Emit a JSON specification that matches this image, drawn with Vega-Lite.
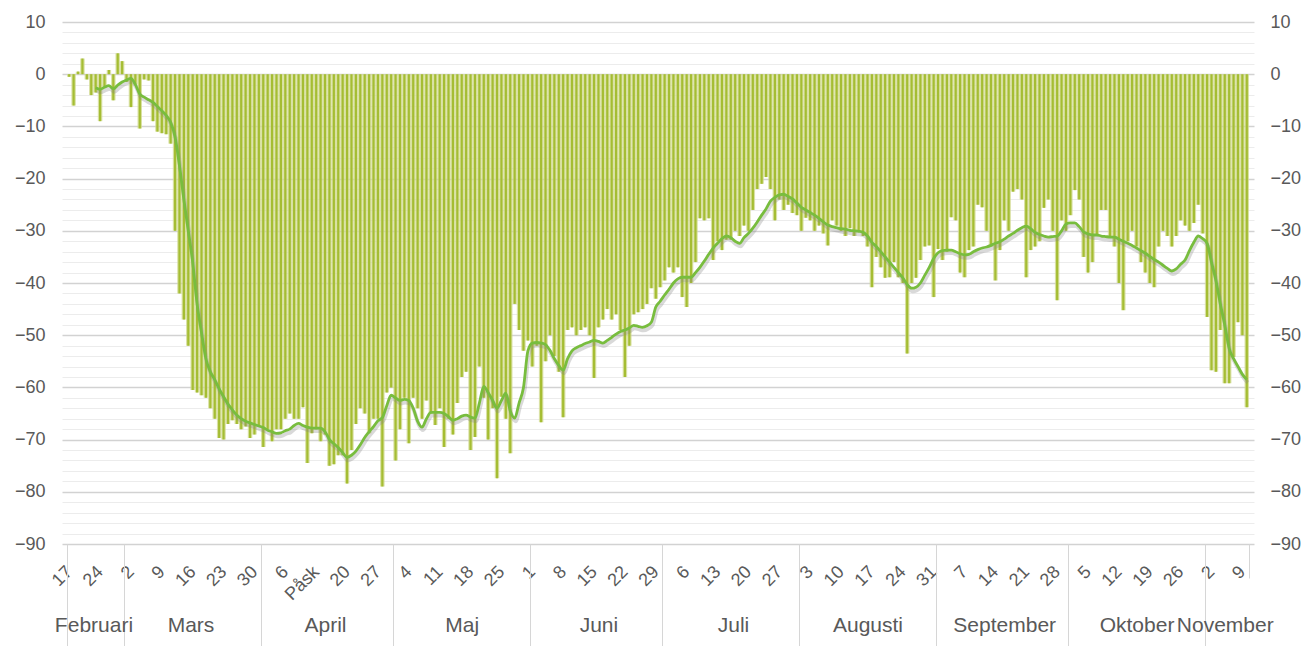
{
  "$schema": "https://vega.github.io/schema/vega-lite/v6.json",
  "width": 1192,
  "height": 522,
  "autosize": "none",
  "padding": {"left": 62, "top": 22, "right": 52, "bottom": 102},
  "background": "white",
  "config": {
    "view": {"stroke": null},
    "font": "Liberation Sans",
    "axis": {"labelFont": "Liberation Sans", "labelColor": "#595959", "labelFontSize": 18, "title": null, "labelOverlap": false, "labelFlush": false, "labelBound": false}
  },
  "data": {"values": [
    {"d":"2020-02-17","v":-0.5,"m":null},{"d":"2020-02-18","v":-6,"m":null},{"d":"2020-02-19","v":0.5,"m":null},{"d":"2020-02-20","v":3,"m":null},{"d":"2020-02-21","v":-1,"m":null},{"d":"2020-02-22","v":-4,"m":null},{"d":"2020-02-23","v":-3.5,"m":-2.6},{"d":"2020-02-24","v":-9,"m":-2.9},{"d":"2020-02-25","v":-2.5,"m":-2.5},{"d":"2020-02-26","v":0.8,"m":-2.2},{"d":"2020-02-27","v":-5,"m":-2.8},{"d":"2020-02-28","v":4,"m":-2.1},{"d":"2020-02-29","v":2.5,"m":-1.5},
    {"d":"2020-03-01","v":-1.5,"m":-1.1},{"d":"2020-03-02","v":-6.3,"m":-0.8},{"d":"2020-03-03","v":-2,"m":-2},{"d":"2020-03-04","v":-10.4,"m":-3.8},{"d":"2020-03-05","v":-1,"m":-4.4},{"d":"2020-03-06","v":-1.2,"m":-4.9},{"d":"2020-03-07","v":-9,"m":-5.4},{"d":"2020-03-08","v":-11,"m":-6.2},{"d":"2020-03-09","v":-11.3,"m":-7},{"d":"2020-03-10","v":-11.5,"m":-7.9},{"d":"2020-03-11","v":-13.3,"m":-9.2},{"d":"2020-03-12","v":-30,"m":-12},{"d":"2020-03-13","v":-42,"m":-17.5},{"d":"2020-03-14","v":-47,"m":-24},{"d":"2020-03-15","v":-52,"m":-30},{"d":"2020-03-16","v":-60.5,"m":-36},{"d":"2020-03-17","v":-61,"m":-44},{"d":"2020-03-18","v":-61.5,"m":-49.5},{"d":"2020-03-19","v":-62,"m":-54.5},{"d":"2020-03-20","v":-64,"m":-57},{"d":"2020-03-21","v":-66,"m":-58.5},{"d":"2020-03-22","v":-69.7,"m":-60.3},{"d":"2020-03-23","v":-70,"m":-61.8},{"d":"2020-03-24","v":-67,"m":-63.2},{"d":"2020-03-25","v":-66.3,"m":-64.3},{"d":"2020-03-26","v":-67,"m":-65.3},{"d":"2020-03-27","v":-68,"m":-66},{"d":"2020-03-28","v":-67.5,"m":-66.5},{"d":"2020-03-29","v":-69.7,"m":-66.8},{"d":"2020-03-30","v":-69,"m":-67.1},{"d":"2020-03-31","v":-67.5,"m":-67.4},
    {"d":"2020-04-01","v":-71.4,"m":-67.7},{"d":"2020-04-02","v":-68,"m":-68.2},{"d":"2020-04-03","v":-70.3,"m":-68.5},{"d":"2020-04-04","v":-68,"m":-68.8},{"d":"2020-04-05","v":-68,"m":-68.7},{"d":"2020-04-06","v":-66,"m":-68.3},{"d":"2020-04-07","v":-65,"m":-68},{"d":"2020-04-08","v":-66,"m":-67.3},{"d":"2020-04-09","v":-66,"m":-66.9},{"d":"2020-04-10","v":-63.8,"m":-67.3},{"d":"2020-04-11","v":-74.5,"m":-67.6},{"d":"2020-04-12","v":-68.8,"m":-67.8},{"d":"2020-04-13","v":-68,"m":-67.8},{"d":"2020-04-14","v":-70.3,"m":-67.8},{"d":"2020-04-15","v":-69,"m":-68.5},{"d":"2020-04-16","v":-75,"m":-70},{"d":"2020-04-17","v":-74.7,"m":-70.8},{"d":"2020-04-18","v":-73,"m":-71.5},{"d":"2020-04-19","v":-73,"m":-72.5},{"d":"2020-04-20","v":-78.4,"m":-73.4},{"d":"2020-04-21","v":-72,"m":-73},{"d":"2020-04-22","v":-67,"m":-72.2},{"d":"2020-04-23","v":-64,"m":-71},{"d":"2020-04-24","v":-65,"m":-69.6},{"d":"2020-04-25","v":-68.8,"m":-68.5},{"d":"2020-04-26","v":-66,"m":-67.5},{"d":"2020-04-27","v":-66,"m":-66.4},{"d":"2020-04-28","v":-79,"m":-65.8},{"d":"2020-04-29","v":-61,"m":-63.5},{"d":"2020-04-30","v":-60,"m":-61.5},
    {"d":"2020-05-01","v":-74,"m":-62},{"d":"2020-05-02","v":-68,"m":-62.5},{"d":"2020-05-03","v":-62,"m":-62.3},{"d":"2020-05-04","v":-70.7,"m":-62.5},{"d":"2020-05-05","v":-62,"m":-64},{"d":"2020-05-06","v":-64,"m":-66.5},{"d":"2020-05-07","v":-66,"m":-67.6},{"d":"2020-05-08","v":-62.5,"m":-66},{"d":"2020-05-09","v":-65,"m":-64.8},{"d":"2020-05-10","v":-67.2,"m":-64.8},{"d":"2020-05-11","v":-64,"m":-64.8},{"d":"2020-05-12","v":-71.4,"m":-65},{"d":"2020-05-13","v":-66,"m":-65.6},{"d":"2020-05-14","v":-69,"m":-66.3},{"d":"2020-05-15","v":-63,"m":-66},{"d":"2020-05-16","v":-58,"m":-65.5},{"d":"2020-05-17","v":-57,"m":-65.3},{"d":"2020-05-18","v":-72,"m":-65.7},{"d":"2020-05-19","v":-69.5,"m":-65.9},{"d":"2020-05-20","v":-56,"m":-63},{"d":"2020-05-21","v":-62,"m":-59.8},{"d":"2020-05-22","v":-70,"m":-61},{"d":"2020-05-23","v":-64,"m":-62.5},{"d":"2020-05-24","v":-77.4,"m":-64},{"d":"2020-05-25","v":-61.8,"m":-62.5},{"d":"2020-05-26","v":-66,"m":-61.1},{"d":"2020-05-27","v":-72.6,"m":-64.5},{"d":"2020-05-28","v":-44,"m":-65.9},{"d":"2020-05-29","v":-49,"m":-63},{"d":"2020-05-30","v":-53,"m":-60},{"d":"2020-05-31","v":-51,"m":-53},
    {"d":"2020-06-01","v":-56,"m":-51.5},{"d":"2020-06-02","v":-52,"m":-51.4},{"d":"2020-06-03","v":-66.7,"m":-51.5},{"d":"2020-06-04","v":-55,"m":-51.8},{"d":"2020-06-05","v":-50,"m":-52.9},{"d":"2020-06-06","v":-54,"m":-54.5},{"d":"2020-06-07","v":-57,"m":-55.8},{"d":"2020-06-08","v":-65.7,"m":-56.7},{"d":"2020-06-09","v":-49,"m":-54.5},{"d":"2020-06-10","v":-48.5,"m":-53},{"d":"2020-06-11","v":-50,"m":-52.4},{"d":"2020-06-12","v":-49,"m":-52},{"d":"2020-06-13","v":-48.5,"m":-51.6},{"d":"2020-06-14","v":-50,"m":-51.3},{"d":"2020-06-15","v":-58.2,"m":-51},{"d":"2020-06-16","v":-48.5,"m":-51.2},{"d":"2020-06-17","v":-47,"m":-51.5},{"d":"2020-06-18","v":-45,"m":-51},{"d":"2020-06-19","v":-47,"m":-50.4},{"d":"2020-06-20","v":-46,"m":-49.8},{"d":"2020-06-21","v":-49,"m":-49.3},{"d":"2020-06-22","v":-58,"m":-49},{"d":"2020-06-23","v":-52,"m":-48.6},{"d":"2020-06-24","v":-46,"m":-48.1},{"d":"2020-06-25","v":-45.6,"m":-48.3},{"d":"2020-06-26","v":-45,"m":-48.5},{"d":"2020-06-27","v":-44,"m":-48.2},{"d":"2020-06-28","v":-41,"m":-47.5},{"d":"2020-06-29","v":-43,"m":-44.6},{"d":"2020-06-30","v":-40.8,"m":-43.5},
    {"d":"2020-07-01","v":-39.5,"m":-42.3},{"d":"2020-07-02","v":-37,"m":-41.2},{"d":"2020-07-03","v":-38,"m":-40},{"d":"2020-07-04","v":-37,"m":-39.2},{"d":"2020-07-05","v":-42.7,"m":-38.9},{"d":"2020-07-06","v":-44.6,"m":-38.9},{"d":"2020-07-07","v":-40,"m":-38.9},{"d":"2020-07-08","v":-36,"m":-38},{"d":"2020-07-09","v":-27.6,"m":-37},{"d":"2020-07-10","v":-28,"m":-35.8},{"d":"2020-07-11","v":-27.6,"m":-34.5},{"d":"2020-07-12","v":-35.6,"m":-33.3},{"d":"2020-07-13","v":-32,"m":-32.4},{"d":"2020-07-14","v":-33.7,"m":-31.5},{"d":"2020-07-15","v":-31.7,"m":-31},{"d":"2020-07-16","v":-31.7,"m":-31.3},{"d":"2020-07-17","v":-30,"m":-32},{"d":"2020-07-18","v":-31,"m":-32.4},{"d":"2020-07-19","v":-29,"m":-31.3},{"d":"2020-07-20","v":-30,"m":-30.5},{"d":"2020-07-21","v":-26,"m":-29.5},{"d":"2020-07-22","v":-22,"m":-28.3},{"d":"2020-07-23","v":-21,"m":-27},{"d":"2020-07-24","v":-19.7,"m":-25.8},{"d":"2020-07-25","v":-22,"m":-24.3},{"d":"2020-07-26","v":-28,"m":-23.6},{"d":"2020-07-27","v":-24,"m":-23.1},{"d":"2020-07-28","v":-26,"m":-23},{"d":"2020-07-29","v":-25,"m":-23.4},{"d":"2020-07-30","v":-26.6,"m":-23.9},{"d":"2020-07-31","v":-27,"m":-24.7},
    {"d":"2020-08-01","v":-30,"m":-25.5},{"d":"2020-08-02","v":-27.5,"m":-26},{"d":"2020-08-03","v":-28,"m":-26.5},{"d":"2020-08-04","v":-30,"m":-27},{"d":"2020-08-05","v":-29,"m":-27.6},{"d":"2020-08-06","v":-30.5,"m":-28.3},{"d":"2020-08-07","v":-32.8,"m":-28.9},{"d":"2020-08-08","v":-28,"m":-29.2},{"d":"2020-08-09","v":-29,"m":-29.4},{"d":"2020-08-10","v":-30,"m":-29.6},{"d":"2020-08-11","v":-31,"m":-29.7},{"d":"2020-08-12","v":-29.5,"m":-29.9},{"d":"2020-08-13","v":-31,"m":-30},{"d":"2020-08-14","v":-30,"m":-30.1},{"d":"2020-08-15","v":-31,"m":-30.3},{"d":"2020-08-16","v":-33,"m":-31},{"d":"2020-08-17","v":-40.8,"m":-32.2},{"d":"2020-08-18","v":-35,"m":-33},{"d":"2020-08-19","v":-37,"m":-34},{"d":"2020-08-20","v":-39,"m":-35},{"d":"2020-08-21","v":-38.9,"m":-36},{"d":"2020-08-22","v":-36,"m":-37},{"d":"2020-08-23","v":-38.9,"m":-38},{"d":"2020-08-24","v":-40,"m":-39},{"d":"2020-08-25","v":-53.5,"m":-40.3},{"d":"2020-08-26","v":-40,"m":-41},{"d":"2020-08-27","v":-39,"m":-40.8},{"d":"2020-08-28","v":-35.6,"m":-40},{"d":"2020-08-29","v":-33,"m":-38.5},{"d":"2020-08-30","v":-32.8,"m":-37},{"d":"2020-08-31","v":-42.7,"m":-35.3},
    {"d":"2020-09-01","v":-33.5,"m":-34.2},{"d":"2020-09-02","v":-35.6,"m":-33.8},{"d":"2020-09-03","v":-34,"m":-33.7},{"d":"2020-09-04","v":-27.4,"m":-33.7},{"d":"2020-09-05","v":-28,"m":-34},{"d":"2020-09-06","v":-38,"m":-34.4},{"d":"2020-09-07","v":-38.9,"m":-34.6},{"d":"2020-09-08","v":-33.7,"m":-34.5},{"d":"2020-09-09","v":-33,"m":-34},{"d":"2020-09-10","v":-25,"m":-33.6},{"d":"2020-09-11","v":-25.5,"m":-33.3},{"d":"2020-09-12","v":-30,"m":-33.1},{"d":"2020-09-13","v":-33,"m":-32.8},{"d":"2020-09-14","v":-39.5,"m":-32.4},{"d":"2020-09-15","v":-33.7,"m":-32.1},{"d":"2020-09-16","v":-28,"m":-31.6},{"d":"2020-09-17","v":-30,"m":-31},{"d":"2020-09-18","v":-22.5,"m":-30.5},{"d":"2020-09-19","v":-22,"m":-29.9},{"d":"2020-09-20","v":-24,"m":-29.4},{"d":"2020-09-21","v":-38.9,"m":-29.1},{"d":"2020-09-22","v":-33.7,"m":-29.6},{"d":"2020-09-23","v":-33,"m":-30.3},{"d":"2020-09-24","v":-32,"m":-30.7},{"d":"2020-09-25","v":-25.6,"m":-31},{"d":"2020-09-26","v":-24,"m":-31.2},{"d":"2020-09-27","v":-30,"m":-31.1},{"d":"2020-09-28","v":-43.3,"m":-31},{"d":"2020-09-29","v":-28,"m":-30},{"d":"2020-09-30","v":-30,"m":-28.7},
    {"d":"2020-10-01","v":-27,"m":-28.5},{"d":"2020-10-02","v":-22.2,"m":-28.5},{"d":"2020-10-03","v":-24,"m":-29.2},{"d":"2020-10-04","v":-35,"m":-30.2},{"d":"2020-10-05","v":-38,"m":-30.6},{"d":"2020-10-06","v":-36,"m":-30.8},{"d":"2020-10-07","v":-31,"m":-30.8},{"d":"2020-10-08","v":-26,"m":-31},{"d":"2020-10-09","v":-26,"m":-31.1},{"d":"2020-10-10","v":-31,"m":-31.2},{"d":"2020-10-11","v":-33,"m":-31.2},{"d":"2020-10-12","v":-40,"m":-31.6},{"d":"2020-10-13","v":-45.2,"m":-32},{"d":"2020-10-14","v":-32,"m":-32.4},{"d":"2020-10-15","v":-30,"m":-32.8},{"d":"2020-10-16","v":-33,"m":-33.3},{"d":"2020-10-17","v":-36,"m":-33.8},{"d":"2020-10-18","v":-38,"m":-34.3},{"d":"2020-10-19","v":-40,"m":-34.9},{"d":"2020-10-20","v":-40.8,"m":-35.5},{"d":"2020-10-21","v":-33,"m":-36},{"d":"2020-10-22","v":-30,"m":-36.6},{"d":"2020-10-23","v":-31,"m":-37.2},{"d":"2020-10-24","v":-33,"m":-37.7},{"d":"2020-10-25","v":-31,"m":-37.3},{"d":"2020-10-26","v":-28,"m":-36.4},{"d":"2020-10-27","v":-29,"m":-35.6},{"d":"2020-10-28","v":-30,"m":-33.8},{"d":"2020-10-29","v":-28.5,"m":-32.2},{"d":"2020-10-30","v":-25,"m":-31},{"d":"2020-10-31","v":-30.5,"m":-31.5},
    {"d":"2020-11-01","v":-46.5,"m":-32.4},{"d":"2020-11-02","v":-56.7,"m":-36},{"d":"2020-11-03","v":-57,"m":-39.5},{"d":"2020-11-04","v":-49,"m":-44},{"d":"2020-11-05","v":-59.2,"m":-48},{"d":"2020-11-06","v":-59.2,"m":-52.5},{"d":"2020-11-07","v":-54.2,"m":-54.5},{"d":"2020-11-08","v":-47.5,"m":-56},{"d":"2020-11-09","v":-50,"m":-57.5},{"d":"2020-11-10","v":-63.8,"m":-58.5}
  ]},
  "resolve": {"axis": {"x": "independent", "y": "independent"}},
  "layer": [
    {
      "mark": {"type": "bar", "size": 4.45, "color": "#cfd98c", "opacity": 0.8},
      "encoding": {
        "x": {"field": "d", "type": "temporal",
          "scale": {"type": "utc", "domain": [{"year": 2020, "month": 2, "date": 16, "hours": 12, "utc": true}, {"year": 2020, "month": 11, "date": 10, "hours": 12, "utc": true}]},
          "axis": {"orient": "bottom", "grid": false, "ticks": false, "domain": false, "labelAngle": -45, "labelAlign": "right", "labelBaseline": "middle", "labelPadding": 25, "labelDx": 2, "labelFontSize": 18,
            "labelExpr": "(utcmonth(datum.value) == 3 && utcdate(datum.value) == 13) ? 'Påsk' : '' + utcdate(datum.value)",
            "values": [
              {"year":2020,"month":2,"date":17,"utc":true},{"year":2020,"month":2,"date":24,"utc":true},
              {"year":2020,"month":3,"date":2,"utc":true},{"year":2020,"month":3,"date":9,"utc":true},{"year":2020,"month":3,"date":16,"utc":true},{"year":2020,"month":3,"date":23,"utc":true},{"year":2020,"month":3,"date":30,"utc":true},
              {"year":2020,"month":4,"date":6,"utc":true},{"year":2020,"month":4,"date":13,"utc":true},{"year":2020,"month":4,"date":20,"utc":true},{"year":2020,"month":4,"date":27,"utc":true},
              {"year":2020,"month":5,"date":4,"utc":true},{"year":2020,"month":5,"date":11,"utc":true},{"year":2020,"month":5,"date":18,"utc":true},{"year":2020,"month":5,"date":25,"utc":true},
              {"year":2020,"month":6,"date":1,"utc":true},{"year":2020,"month":6,"date":8,"utc":true},{"year":2020,"month":6,"date":15,"utc":true},{"year":2020,"month":6,"date":22,"utc":true},{"year":2020,"month":6,"date":29,"utc":true},
              {"year":2020,"month":7,"date":6,"utc":true},{"year":2020,"month":7,"date":13,"utc":true},{"year":2020,"month":7,"date":20,"utc":true},{"year":2020,"month":7,"date":27,"utc":true},
              {"year":2020,"month":8,"date":3,"utc":true},{"year":2020,"month":8,"date":10,"utc":true},{"year":2020,"month":8,"date":17,"utc":true},{"year":2020,"month":8,"date":24,"utc":true},{"year":2020,"month":8,"date":31,"utc":true},
              {"year":2020,"month":9,"date":7,"utc":true},{"year":2020,"month":9,"date":14,"utc":true},{"year":2020,"month":9,"date":21,"utc":true},{"year":2020,"month":9,"date":28,"utc":true},
              {"year":2020,"month":10,"date":5,"utc":true},{"year":2020,"month":10,"date":12,"utc":true},{"year":2020,"month":10,"date":19,"utc":true},{"year":2020,"month":10,"date":26,"utc":true},
              {"year":2020,"month":11,"date":2,"utc":true},{"year":2020,"month":11,"date":9,"utc":true}
            ]}},
        "y": {"field": "v", "type": "quantitative", "stack": null,
          "scale": {"domain": [-90, 10], "nice": false, "zero": false},
          "axis": {"orient": "left", "grid": true, "ticks": false, "domain": false, "labelPadding": 17,
            "values": [-90,-88,-86,-84,-82,-80,-78,-76,-74,-72,-70,-68,-66,-64,-62,-60,-58,-56,-54,-52,-50,-48,-46,-44,-42,-40,-38,-36,-34,-32,-30,-28,-26,-24,-22,-20,-18,-16,-14,-12,-10,-8,-6,-4,-2,0,2,4,6,8,10],
            "labelExpr": "datum.value % 10 === 0 ? datum.label : ''",
            "gridColor": {"condition": {"test": "datum.value % 10 === 0", "value": "#d2d2d2"}, "value": "#ececec"},
            "gridWidth": {"condition": {"test": "datum.value % 10 === 0", "value": 1.6}, "value": 1}}}
      }
    },
    {
      "mark": {"type": "bar", "size": 2.2, "color": "#a5bd33"},
      "encoding": {
        "x": {"field": "d", "type": "temporal", "scale": {"type": "utc", "domain": [{"year": 2020, "month": 2, "date": 16, "hours": 12, "utc": true}, {"year": 2020, "month": 11, "date": 10, "hours": 12, "utc": true}]}, "axis": null},
        "y": {"field": "v", "type": "quantitative", "stack": null, "scale": {"domain": [-90, 10], "nice": false, "zero": false}, "axis": null}
      }
    },
    {
      "transform": [{"filter": "datum.m != null"}],
      "mark": {"type": "line", "color": "#808080", "opacity": 0.3, "strokeWidth": 4, "yOffset": 3, "xOffset": 1, "interpolate": "monotone"},
      "encoding": {
        "x": {"field": "d", "type": "temporal", "scale": {"type": "utc", "domain": [{"year": 2020, "month": 2, "date": 16, "hours": 12, "utc": true}, {"year": 2020, "month": 11, "date": 10, "hours": 12, "utc": true}]}, "axis": null},
        "y": {"field": "m", "type": "quantitative", "scale": {"domain": [-90, 10], "nice": false, "zero": false}, "axis": null}
      }
    },
    {
      "transform": [{"filter": "datum.m != null"}],
      "mark": {"type": "line", "color": "#78bd3e", "strokeWidth": 2.8, "interpolate": "monotone"},
      "encoding": {
        "x": {"field": "d", "type": "temporal", "scale": {"type": "utc", "domain": [{"year": 2020, "month": 2, "date": 16, "hours": 12, "utc": true}, {"year": 2020, "month": 11, "date": 10, "hours": 12, "utc": true}]}, "axis": null},
        "y": {"field": "m", "type": "quantitative", "scale": {"domain": [-90, 10], "nice": false, "zero": false}, "axis": null}
      }
    },
    {
      "mark": {"type": "point", "opacity": 0},
      "encoding": {
        "x": {"field": "d", "type": "temporal", "scale": {"type": "utc", "domain": [{"year": 2020, "month": 2, "date": 16, "hours": 12, "utc": true}, {"year": 2020, "month": 11, "date": 10, "hours": 12, "utc": true}]},
          "axis": {"orient": "bottom", "grid": false, "labels": false, "domain": false, "ticks": true, "tickSize": 102, "tickColor": "#d6d6d6", "tickWidth": 1,
            "values": [
              {"year":2020,"month":2,"date":16,"hours":12,"utc":true},{"year":2020,"month":2,"date":29,"hours":12,"utc":true},{"year":2020,"month":3,"date":31,"hours":12,"utc":true},{"year":2020,"month":4,"date":30,"hours":12,"utc":true},{"year":2020,"month":5,"date":31,"hours":12,"utc":true},{"year":2020,"month":6,"date":30,"hours":12,"utc":true},{"year":2020,"month":7,"date":31,"hours":12,"utc":true},{"year":2020,"month":8,"date":31,"hours":12,"utc":true},{"year":2020,"month":9,"date":30,"hours":12,"utc":true},{"year":2020,"month":10,"date":31,"hours":12,"utc":true}
            ]}},
        "y": {"field": "v", "type": "quantitative", "scale": {"domain": [-90, 10], "nice": false, "zero": false},
          "axis": {"orient": "right", "grid": false, "ticks": false, "domain": false, "labelPadding": 16, "values": [-90,-80,-70,-60,-50,-40,-30,-20,-10,0,10]}}
      }
    },
    {
      "mark": {"type": "point", "opacity": 0},
      "encoding": {
        "x": {"field": "d", "type": "temporal", "scale": {"type": "utc", "domain": [{"year": 2020, "month": 2, "date": 16, "hours": 12, "utc": true}, {"year": 2020, "month": 11, "date": 10, "hours": 12, "utc": true}]},
          "axis": {"orient": "bottom", "grid": false, "ticks": false, "domain": false, "labelAngle": 0, "labelAlign": "center", "labelBaseline": "top", "labelPadding": 70, "labelFontSize": 21,
            "labelExpr": "['Januari','Februari','Mars','April','Maj','Juni','Juli','Augusti','September','Oktober','November','December'][utcmonth(datum.value)]",
            "values": [
              {"year":2020,"month":2,"date":22,"hours":12,"utc":true},{"year":2020,"month":3,"date":15,"hours":12,"utc":true},{"year":2020,"month":4,"date":15,"utc":true},{"year":2020,"month":5,"date":16,"utc":true},{"year":2020,"month":6,"date":16,"utc":true},{"year":2020,"month":7,"date":16,"hours":12,"utc":true},{"year":2020,"month":8,"date":16,"utc":true},{"year":2020,"month":9,"date":16,"utc":true},{"year":2020,"month":10,"date":16,"utc":true},{"year":2020,"month":11,"date":5,"utc":true}
            ]}},
        "y": {"field": "v", "type": "quantitative", "scale": {"domain": [-90, 10], "nice": false, "zero": false}, "axis": null}
      }
    },
    {
      "mark": {"type": "point", "opacity": 0},
      "encoding": {
        "x": {"field": "d", "type": "temporal", "scale": {"type": "utc", "domain": [{"year": 2020, "month": 2, "date": 16, "hours": 12, "utc": true}, {"year": 2020, "month": 11, "date": 10, "hours": 12, "utc": true}]},
          "axis": {"orient": "bottom", "grid": false, "labels": false, "domain": false, "ticks": true, "tickSize": 34, "tickColor": "#d6d6d6", "tickWidth": 1,
            "values": [{"year":2020,"month":11,"date":10,"hours":12,"utc":true}]}},
        "y": {"field": "v", "type": "quantitative", "scale": {"domain": [-90, 10], "nice": false, "zero": false}, "axis": null}
      }
    }
  ]
}
